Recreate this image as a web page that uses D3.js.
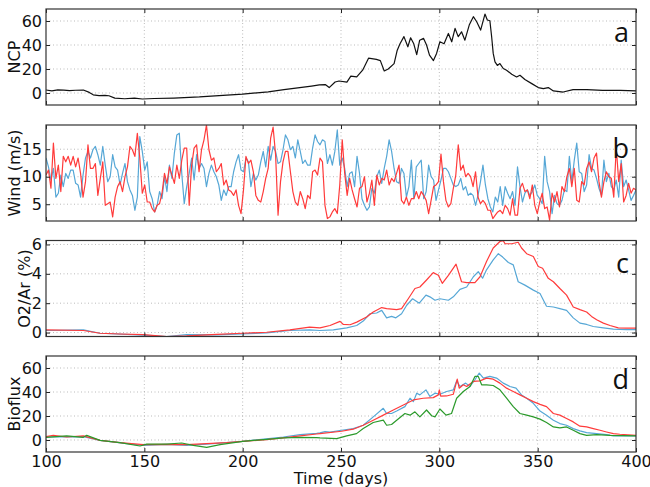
<!DOCTYPE html>
<html>
<head>
<meta charset="utf-8">
<script src="https://cdn.jsdelivr.net/npm/d3@7"></script>
<style>
  body { margin: 0; background: #fff; }
  text { font-family: "DejaVu Sans", sans-serif; fill: #111; }
</style>
</head>
<body>
<div id="chart"></div>
<script>
// x axis (days) ticks shared by all panels
const dayTicks = [100, 150, 200, 250, 300, 350, 400];

// a: net community production [day, value]
const ncp = [[100,2.5],[103,1.8],[106,2.6],[109,2.4],[112,2.0],[115,2.3],[119,2.5],[122,0.5],[124,-1.5],[127,-2.2],
  [130,-2.0],[132,-2.3],[135,-4.3],[140,-4.8],[145,-4.3],[149,-5.0],[155,-4.6],[165,-4.2],[178,-3.3],[190,-2.0],
  [200,-1.0],[213,1.0],[221,2.8],[229,4.5],[235,5.8],[239,6.8],[242,7.0],[244,4.5],[247,9.2],[249,10],[253,9],
  [255,14],[258,13.5],[261,19],[264,29],[268,28],[270,27],[272,18.4],[274,20],[277,24.5],[278.6,35.7],[280,41],
  [282,47],[284,38.5],[285.4,46],[287,41],[288.5,32],[290,44],[292,45.5],[293.5,40],[295,31.5],[297,27],[298.6,33],
  [300.3,42.7],[302.4,41],[304.6,49.6],[306.3,42.7],[308,53.8],[309.6,47],[311.3,51],[313,44],[315.2,56.6],
  [317.3,63.6],[319,59.4],[321,52.4],[323.2,65.8],[324.4,60.8],[325.7,60.2],[326.6,46.9],[327.4,33],[328.3,26],
  [329.5,23],[330.8,24.5],[332.5,20.4],[334.2,19],[336.8,15.6],[339.3,13.4],[341,14.8],[343.5,11.2],[347,7.8],
  [350.3,4.5],[352.9,3.6],[355.4,4.5],[358,1.7],[363,0.8],[368,2.8],[375,2.8],[383,2.2],[392,2.2],[400,1.7]];

// b: wind speed, evenly spaced samples from day 100 to 400
const windRed = [10.3, 11.2, 7.9, 16.1, 9.7, 12.1, 7.3, 13.7, 12.7, 13.7,
  12.1, 13.7, 11.8, 13.4, 10.6, 6.3, 9.1, 15.8, 11.5, 11.5,
  12.4, 6.6, 9.7, 12.7, 4.8, 5.1, 5.4, 2.7, 6.3, 8.2,
  9.1, 7.3, 10.0, 11.8, 15.5, 14.9, 13.7, 17.9, 13.4, 7.0,
  8.5, 5.4, 5.4, 4.2, 3.6, 4.8, 5.1, 7.0, 10.6, 8.8,
  11.8, 10.3, 8.8, 12.1, 9.7, 13.0, 15.2, 15.2, 4.8, 12.1,
  15.2, 15.8, 10.9, 14.9, 16.7, 19.4, 14.9, 13.0, 13.4, 10.9,
  11.5, 12.4, 8.5, 9.4, 7.6, 7.3, 6.6, 7.6, 4.8, 3.3,
  7.6, 13.7, 12.4, 13.0, 10.9, 6.6, 5.7, 5.4, 7.3, 9.7,
  11.5, 17.0, 19.0, 14.0, 3.0, 9.1, 12.7, 14.6, 14.6, 10.9,
  7.3, 5.4, 4.8, 7.3, 6.0, 4.2, 6.6, 6.0, 10.9, 11.2,
  10.3, 13.4, 12.7,
  4.8, 2.4, 2.7, 3.6, 4.2, 3.3, 8.5, 16.7, 10.6, 6.6,
  9.7, 7.6, 6.0, 4.5, 7.9, 8.2, 10.0, 5.4, 7.0, 9.4,
  4.8, 10.3, 8.5, 9.7, 9.4, 11.2, 8.5, 9.7, 9.1, 10.6,
  12.1, 5.7, 5.1, 6.3, 4.8, 6.0, 6.0, 7.3, 6.0, 7.3,
  6.6, 5.7, 3.3, 5.7, 8.2, 8.5, 9.1, 14.1, 9.1, 5.7,
  4.5, 5.1, 7.9, 10.3, 15.8, 11.2, 12.1, 10.0, 10.6, 10.0,
  8.2, 10.9, 6.3, 5.1, 5.7, 5.1, 3.9, 3.9, 2.4, 3.0,
  3.6, 3.9, 3.3, 4.8, 4.2, 3.0, 6.0, 3.0, 3.0, 7.9,
  8.8, 7.3, 7.6, 6.0, 8.5, 4.8, 3.3, 5.4, 7.0, 4.2,
  4.5, 2.1, 7.0, 5.4, 7.3, 4.5, 8.2, 7.3, 10.0, 11.5,
  8.2, 11.5, 5.7, 5.4, 9.1, 8.5, 11.5, 12.7, 10.9, 13.4,
  14.3, 9.1, 6.3, 9.1, 10.9, 10.0, 9.7, 6.3, 15.3, 9.1,
  12.4, 5.4, 6.6, 8.8, 7.0, 7.9, 7.6];
const windBlue = [13.4, 11.8, 9.4, 11.5, 6.3, 7.0, 10.3, 8.2, 10.6, 9.7,
  11.2, 11.2, 8.8, 8.5, 6.3, 10.3, 13.4, 14.6, 13.4, 14.9,
  15.5, 14.0, 12.1, 15.5, 12.1, 9.1, 10.0, 14.0, 11.8, 11.2,
  8.5, 10.6, 12.4, 9.1, 7.6, 6.6, 3.9, 6.3, 17.3, 14.6,
  11.2, 12.7, 7.3, 6.0, 3.6, 4.8, 7.3, 6.0, 10.0, 7.3,
  12.1, 9.7, 14.3, 17.6, 17.9, 10.6, 5.1, 8.2, 10.6, 13.4,
  9.4, 14.0, 11.5, 12.4, 11.5, 8.2, 10.6, 12.1, 10.9, 10.0,
  8.5, 5.7, 7.6, 6.6, 8.2, 8.2, 10.9, 12.7, 14.0, 11.2,
  10.9, 13.4, 12.7, 8.2, 10.6, 9.4, 10.3, 12.7, 14.6, 11.8,
  15.5, 13.0, 15.5, 14.6, 12.4, 12.7, 14.9, 17.6, 16.7, 14.9,
  15.5, 13.4, 16.7, 14.6, 12.4, 13.0, 12.1, 12.1, 15.2, 17.6,
  16.4, 15.8, 16.7,
  16.4, 12.4, 14.0, 12.1, 14.6, 18.5, 12.1, 13.4, 11.5, 8.2,
  10.6, 10.9, 8.2, 13.7, 10.6, 6.0, 4.8, 3.9, 4.5, 7.9,
  7.0, 10.0, 11.2, 8.8, 11.5, 13.7, 16.7, 14.6, 11.5, 9.1,
  8.8, 11.5, 10.6, 6.3, 8.2, 13.0, 6.0, 11.8, 12.4, 13.0,
  6.0, 7.3, 12.1, 10.0, 9.4, 5.7, 7.6, 9.4, 11.5, 11.5,
  10.9, 9.7, 8.5, 8.2, 8.5, 9.7, 7.6, 8.2, 6.6, 7.0,
  6.6, 4.8, 6.6, 9.1, 12.1, 8.5, 6.0, 4.5, 3.6, 6.3,
  5.4, 8.2, 4.8, 8.2, 7.0, 6.0, 7.3, 4.8, 11.8, 8.2,
  5.4, 7.0, 7.6, 6.6, 7.3, 8.5, 6.6, 6.0, 5.1, 13.7,
  9.1, 7.3, 3.3, 6.6, 5.1, 4.8, 5.7, 7.6, 7.3, 13.7,
  9.1, 13.0, 16.1, 10.9, 10.6, 7.3, 8.5, 14.0, 11.5, 11.2,
  9.7, 7.9, 6.6, 13.0, 9.1, 10.6, 8.2, 7.6, 9.4, 6.3,
  13.0, 8.2, 9.4, 7.6, 5.7, 6.6, 7.6];

// c: O2/Ar supersaturation [day, %]
const o2Blue = [[100,0.14],[119,0.18],[127.5,-0.05],[149.5,-0.18],[161.4,-0.27],[171.5,-0.14],[186.8,-0.16],
  [200,-0.09],[212.2,-0.02],[224,0.14],[234,0.18],[239.3,0.14],[246.1,0.18],[252.9,0.32],[258,0.48],[261.3,0.78],
  [264.7,1.28],[268.1,1.33],[270.7,1.51],[273.2,1.0],[275.7,1.1],[277.9,1.0],[280.8,1.28],[283.4,1.86],[286.4,2.3],
  [289.8,2.0],[293.2,2.55],[295.2,2.43],[297.8,2.2],[300.3,2.3],[304.6,2.2],[307.1,2.43],[310.5,2.94],[313.9,3.1],
  [317.3,3.8],[319.8,4.15],[322,3.7],[324,4.27],[327.4,4.95],[330,5.37],[332.2,5.14],[335.1,4.77],[337.6,4.61],
  [340.1,3.46],[343.5,3.23],[347.8,2.89],[351.2,2.66],[354.5,1.79],[358,1.74],[361.3,1.63],[364.7,1.51],[368.1,1.0],
  [371.5,0.64],[374.9,0.55],[378.3,0.41],[383.4,0.32],[388.5,0.23],[395.2,0.2],[400,0.2]];
const o2Red = [[100,0.18],[119,0.14],[127.5,-0.05],[137.6,-0.1],[149.5,-0.14],[161.4,-0.27],[171.5,-0.23],
  [186.8,-0.12],[200,-0.05],[212.2,0.02],[224,0.18],[234,0.37],[239.3,0.32],[244.4,0.48],[249.5,0.76],[251.2,0.55],
  [254.6,0.53],[258,0.71],[263,1.06],[266.4,1.4],[270.7,1.7],[273.2,1.63],[278.3,1.56],[280.8,1.63],[284.2,2.3],
  [287.6,3.0],[290.1,3.1],[293.5,3.58],[296.9,4.08],[299.5,3.9],[301.5,3.35],[304.6,3.9],[308.5,4.66],[311.3,3.46],
  [313.9,3.4],[318.1,3.4],[320.7,3.8],[324,4.84],[327.4,5.76],[330.8,6.2],[332.5,6.26],[333.4,6.05],[336.8,6.05],
  [340.1,6.15],[341.8,5.76],[344.4,5.37],[347.8,5.18],[350.3,4.5],[352.5,4.38],[355.4,3.69],[358,3.46],[361.3,3.0],
  [364.7,2.55],[368.1,1.74],[371.5,1.56],[374.9,1.4],[377.4,1.1],[380,0.87],[383.4,0.64],[386.8,0.48],[391,0.32],
  [395.2,0.3],[400,0.3]];

// d: biological flux estimates [day, value]
const bioBlue = [[100,2.5],[119,2.8],[127.5,-0.3],[144.4,-3.6],[149.5,-4.5],[161.4,-3.6],[171.5,-4.5],[181.7,-3.4],
  [200,-1.1],[220.7,2.5],[229.2,4.5],[237.6,5.6],[239.3,5.9],[241.9,7.0],[244.4,6.5],[250.3,8.1],[256.2,9.5],
  [261.3,12.3],[266.4,19.3],[271.5,26.4],[273.2,22.1],[275.7,22.1],[278.3,24.1],[282.5,27.8],[285.1,34.8],[286.8,32],
  [288.5,39],[290.1,37.6],[293.2,41.8],[295.2,36.2],[297.8,39],[300.3,38.1],[303.7,40.4],[307.1,41.8],[308.8,49.3],
  [310.5,44.6],[313.4,47.4],[315.6,44.6],[318.1,50.2],[320.3,55.8],[322.4,51.6],[325.7,53],[329.1,51.6],[332.5,47.4],
  [335.9,44.6],[339,43.2],[341.8,37.6],[344.4,34.8],[347.8,30.6],[351.2,24.1],[354.5,20.7],[358,16.5],[361.3,13.7],
  [364.7,12.3],[368.1,9.5],[371.5,7.6],[374.9,6.2],[380,5.3],[385,4.5],[388.5,3.4],[400,3.4]];
const bioRed = [[100,2.8],[103.7,3.9],[110.5,2.5],[119,3.4],[127.5,-0.3],[137.6,-2.2],[149.5,-3.9],[161.4,-3.6],
  [171.5,-3.9],[181.7,-3.1],[191.9,-2.2],[200,-1.1],[212.2,0.3],[220.7,1.7],[229.2,3.4],[237.6,5.0],[239.3,5.3],
  [250.3,7.3],[256.2,9],[261.3,12.3],[266.4,16.5],[271.5,20.7],[276.6,25],[281.7,29.2],[286.8,33.4],[291.8,34.8],
  [296.9,35.3],[299.5,37.6],[300,41.8],[300.7,36.5],[303.7,36.7],[307.1,38.1],[309.1,50.7],[310.1,43.2],[312.2,46],
  [313.9,44.6],[317.3,48.8],[320.7,49.3],[324,51.6],[327.4,50.7],[330.8,47.4],[334.2,43.2],[337.6,40.4],[341,37.6],
  [344.4,34.8],[347.8,32],[351.2,29.7],[354.5,27.8],[358,22.1],[361.3,20.7],[364.7,17.9],[368.1,15.1],[371.5,11.5],
  [374.9,10.9],[378.3,9.5],[381.7,8.1],[385,6.7],[388.5,5.3],[391.8,4.8],[400,3.9]];
const bioGreen = [[100,2.2],[110.5,3.4],[119,2.2],[120.7,3.9],[127.5,-0.3],[137.6,-2.2],[147.8,-5.0],[151.2,-3.4],
  [161.4,-3.4],[169,-2.5],[174.9,-4.5],[181.7,-6.2],[188.5,-3.9],[200,-1.1],[212.2,0.6],[220.7,1.7],[229.2,2.2],
  [237.6,2.0],[239.3,1.7],[247.8,1.1],[252.9,3.4],[257.9,5.3],[261.3,9.5],[266.4,14.6],[271.5,16.5],[273.2,12.3],
  [275.7,12.9],[278.3,16.5],[282.5,22.1],[285.1,20.7],[287.6,23.5],[290.1,19.3],[293.5,25],[296.1,20.2],[297.8,19.3],
  [300.3,25.8],[303.4,20.7],[306.2,22.1],[308.8,34.8],[312.2,40.4],[315.6,44.6],[318.1,53],[319.8,53],[321.5,46],
  [324,46],[327.4,45.4],[330.8,41.8],[334.2,34.8],[337.6,27.8],[341,22.1],[344.4,20.7],[347.8,19.3],[351.2,17.4],
  [354.5,14.6],[358,10.9],[361.3,10.1],[364.7,10.9],[368.1,8.1],[371.5,5.3],[374.9,3.9],[380,4.5],[386.8,3.9],[400,3.4]];

// wind samples get evenly spaced days
const windDays = windRed.map((d, i) => 100 + i * 300 / (windRed.length - 1));

const blue = "#56a7d6", red = "#ff3b3b", green = "#2b9a2b";

// Page and panel geometry
const W = 650, H = 487;
const left = 46, right = 636;
const panelH = 96;

const panels = [
  { top: 9, letter: "a", label: "NCP", labelX: 20, domain: [-10, 70], ticks: [0, 20, 40, 60],
    series: [{ data: ncp, color: "#111" }] },
  { top: 125, letter: "b", label: "Wind (m/s)", labelX: 20, domain: [1.95, 19.4], ticks: [5, 10, 15],
    series: [{ data: windDays.map((d, i) => [d, windBlue[i]]), color: blue },
             { data: windDays.map((d, i) => [d, windRed[i]]), color: red }] },
  { top: 240.5, letter: "c", label: "O2/Ar (%)", labelX: 30, domain: [-0.27, 6.27], ticks: [0, 2, 4, 6],
    series: [{ data: o2Blue, color: blue }, { data: o2Red, color: red }] },
  { top: 356, letter: "d", label: "Bioflux", labelX: 20, domain: [-10, 70], ticks: [0, 20, 40, 60],
    series: [{ data: bioBlue, color: blue }, { data: bioRed, color: red }, { data: bioGreen, color: green }] }
];

const svg = d3.select("#chart").append("svg")
  .attr("width", W).attr("height", H);
svg.append("rect").attr("width", W).attr("height", H).attr("fill", "#fff");

const x = d3.scaleLinear().domain([100, 400]).range([0, right - left]);
const width = right - left;

panels.forEach((p, pi) => {
  const y = d3.scaleLinear().domain(p.domain).range([panelH, 0]);
  const g = svg.append("g").attr("transform", `translate(${left},${p.top})`);
  const last = pi === panels.length - 1;

  // clip so lines stay in the frame
  g.append("clipPath").attr("id", "clip" + pi)
    .append("rect").attr("width", width).attr("height", panelH);

  // dotted grid
  g.append("g").selectAll("line").data(dayTicks.slice(1, -1)).join("line")
    .attr("x1", d => x(d)).attr("x2", d => x(d)).attr("y1", 0).attr("y2", panelH)
    .attr("stroke", "#aaa").attr("stroke-width", 0.8).attr("stroke-dasharray", "1,2.5");
  g.append("g").selectAll("line").data(p.ticks).join("line")
    .attr("x1", 0).attr("x2", width).attr("y1", d => y(d)).attr("y2", d => y(d))
    .attr("stroke", "#aaa").attr("stroke-width", 0.8).attr("stroke-dasharray", "1,2.5");

  // data lines
  const line = d3.line().x(d => x(d[0])).y(d => y(d[1]));
  p.series.forEach(s => {
    g.append("path").datum(s.data)
      .attr("clip-path", `url(#clip${pi})`)
      .attr("fill", "none").attr("stroke", s.color)
      .attr("stroke-width", 1.2).attr("stroke-linejoin", "round")
      .attr("d", line);
  });

  // inward ticks on all four sides
  const styleAxis = a => {
    a.select(".domain").remove();
    a.selectAll(".tick line").attr("stroke", "#222");
    a.selectAll("text").attr("font-size", 16).attr("font-family", "DejaVu Sans").attr("fill", "#111");
  };
  g.append("g").call(d3.axisLeft(y).tickValues(p.ticks).tickSizeInner(-4).tickSizeOuter(0)
      .tickPadding(4).tickFormat(d3.format("d")))
    .call(styleAxis);
  g.append("g").attr("transform", `translate(${width},0)`)
    .call(d3.axisRight(y).tickValues(p.ticks).tickSizeInner(-4).tickSizeOuter(0).tickFormat(""))
    .call(styleAxis);
  g.append("g")
    .call(d3.axisTop(x).tickValues(dayTicks).tickSizeInner(-4).tickSizeOuter(0).tickFormat(""))
    .call(styleAxis);
  g.append("g").attr("transform", `translate(0,${panelH})`)
    .call(d3.axisBottom(x).tickValues(dayTicks).tickSizeInner(-4).tickSizeOuter(0)
      .tickPadding(4).tickFormat(last ? d3.format("d") : ""))
    .call(styleAxis);

  // frame
  g.append("rect").attr("width", width).attr("height", panelH)
    .attr("fill", "none").attr("stroke", "#333").attr("stroke-width", 1.2);

  // y label
  svg.append("text")
    .attr("transform", `translate(${p.labelX},${p.top + panelH / 2}) rotate(-90)`)
    .attr("text-anchor", "middle").attr("font-size", 16)
    .text(p.label);

  // panel letter
  g.append("text").attr("x", width - 7).attr("y", 32.5)
    .attr("text-anchor", "end").attr("font-size", 27)
    .style("font-family", "'Open Sans', sans-serif")
    .text(p.letter);
});

// x label
svg.append("text").attr("x", left + width / 2).attr("y", 484)
  .attr("text-anchor", "middle").attr("font-size", 16)
  .text("Time (days)");
</script>
</body>
</html>
